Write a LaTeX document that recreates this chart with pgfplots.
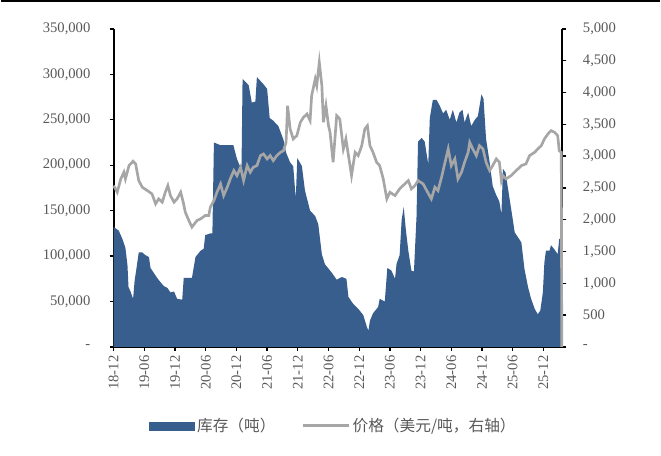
\documentclass[border=0pt]{standalone}
\usepackage{pgfplots}
\pgfplotsset{compat=1.18}
\usepackage{fontspec}
\setmainfont{Liberation Serif}
\newfontfamily\cjk{Noto Sans CJK SC}

\definecolor{invblue}{HTML}{385E8E}
\definecolor{pricegray}{HTML}{A6A6A6}
\definecolor{labelgray}{HTML}{595959}

\pgfplotsset{
  common/.style={
    scale only axis, width=337.5pt, height=239.25pt,
    xmin=0, xmax=87.7, ymin=0,
    axis line style={line width=1.3pt},
    tick align=outside, major tick length=3pt,
    tick style={black, line width=1pt},
    scaled y ticks=false,
    ticklabel style={font=\fontsize{11}{13}\selectfont, text=labelgray},
  },
}

\begin{document}
\begin{tikzpicture}
\path (0pt,0pt) rectangle (495.75pt,342.75pt);
\draw[line width=1.5pt] (0pt,342pt) -- (495.75pt,342pt);

% x = months since 2018-12
\begin{axis}[common,
  name=main,
  at={(84.75pt,81.75pt)}, anchor=south west,
  ymax=350000,
  axis x line*=bottom, axis y line*=left,
  xtick={0,6,12,18,24,30,36,42,48,54,60,66,72,78,84},
  xticklabels={18-12,19-06,19-12,20-06,20-12,21-06,21-12,22-06,22-12,23-06,23-12,24-06,24-12,25-06,25-12},
  ytick={0,50000,100000,150000,200000,250000,300000,350000},
  yticklabels={-,{50,000},{100,000},{150,000},{200,000},{250,000},{300,000},{350,000}},
  yticklabel style={xshift=-11pt},
  xticklabel style={rotate=90, anchor=east},
]
\addplot[fill=invblue, draw=none] table {
x y
0 132000
1.0 128000
1.7 119000
2.3 109000
2.7 90000
2.9 66000
3.3 61000
3.8 53000
4.1 73000
4.5 88000
4.9 104000
5.6 104000
6.2 101000
6.9 99000
7.2 87000
7.9 81000
8.5 76000
9.2 71000
9.8 67000
10.5 65000
11.1 60000
11.8 61000
12.4 53000
13.4 52000
13.7 76000
15.3 76000
16.0 99000
17.0 106000
17.6 108000
17.9 123000
18.9 125000
19.3 125000
19.6 225000
20.9 222000
22.2 222000
23.4 222000
24.1 207000
24.6 200000
25.0 200000
25.2 295000
26.4 288000
27.0 269000
27.7 270000
28.0 297000
29.3 289000
30.0 284000
30.5 252000
31.2 249000
32.2 243000
33.2 228000
33.7 214000
34.5 203000
35.1 199000
35.6 163000
35.9 208000
36.8 199000
37.4 172000
38.4 150000
39.4 144000
40.0 135000
40.7 102000
41.3 91000
42.6 82000
43.6 74000
44.6 77000
45.5 75000
45.9 55000
46.8 47600
47.8 42000
48.8 35000
49.5 22000
49.8 18000
50.1 29000
50.7 37000
51.7 44000
52.0 53000
53.0 50000
53.5 87000
54.3 84000
55.0 75000
55.3 91500
55.9 101000
56.3 140000
56.7 154000
57.1 130000
57.6 106000
58.2 84000
58.7 83000
59.2 143000
59.5 226000
60.2 230000
60.8 226000
61.5 201000
61.8 252000
62.4 272000
63.1 272000
63.7 266000
64.4 257000
65.0 261000
65.7 250000
66.3 261000
67.0 247000
67.6 258000
68.2 261000
68.6 247000
69.3 258000
69.9 243000
70.6 250000
71.2 254000
71.9 278000
72.3 273000
72.8 229000
73.5 203000
74.1 177000
74.8 167000
75.4 160000
75.8 146000
76.1 196000
76.6 192000
77.4 163000
78.0 141000
78.4 126000
79.0 121000
79.7 115000
80.3 86000
81.0 66000
81.6 53000
82.3 42000
82.9 36000
83.4 40000
83.9 60000
84.2 93000
84.5 106000
85.2 106000
85.5 112000
86.2 107000
86.8 102000
87.1 119000
87.5 119000
} \closedcycle;
\end{axis}

\begin{axis}[common,
  at={(main.south west)}, anchor=south west,
  ymax=5000,
  axis x line=none, axis y line*=right,
  ytick={0,500,1000,1500,2000,2500,3000,3500,4000,4500,5000},
  yticklabels={-,500,{1,000},{1,500},{2,000},{2,500},{3,000},{3,500},{4,000},{4,500},{5,000}},
  yticklabel style={xshift=9pt},
  clip=false,
  legend columns=2,
  legend style={draw=none, fill=none, at={(0.49,-0.248)}, anchor=center,
    font=\cjk\fontsize{11.8}{13}\selectfont, text=labelgray,
    /tikz/every even column/.append style={column sep=18pt}},
  legend cell align=left,
]
\addlegendimage{legend image code/.code={\fill[invblue] (0pt,-3pt) rectangle (34pt,3pt);}}
\addlegendentry{库存（吨）}
\addplot[color=pricegray, line width=2pt,
  legend image code/.code={\draw[color=pricegray, line width=2pt] (0pt,0pt) -- (34pt,0pt);}] table {
x y
0.0 2537
0.7 2433
1.4 2642
2.0 2747
2.3 2642
3.0 2851
3.8 2920
4.3 2878
4.9 2616
5.6 2511
6.6 2458
7.5 2406
8.2 2250
8.8 2328
9.5 2276
10.1 2433
10.6 2537
11.1 2380
11.8 2276
12.4 2328
13.1 2433
13.6 2276
14.0 2119
14.7 1988
15.3 1884
16.3 1988
17.0 2014
17.9 2066
18.6 2066
18.9 2198
19.6 2302
20.2 2433
20.9 2563
21.5 2380
22.2 2511
22.8 2642
23.5 2773
24.1 2694
24.8 2825
25.4 2616
26.1 2851
26.7 2747
27.3 2825
28.0 2851
28.7 3008
29.3 3034
30.0 2956
30.6 3008
31.2 2930
31.9 3008
32.6 3060
33.2 3086
33.7 3217
34.0 3793
34.5 3427
35.1 3270
35.8 3322
36.5 3532
37.1 3610
37.8 3662
38.4 3558
38.7 3950
39.4 4212
39.7 4108
40.2 4474
40.7 4108
41.0 3532
41.5 3793
42.0 3479
42.3 3375
42.9 2904
43.6 3636
44.2 3584
44.9 3113
45.4 3270
45.9 3008
46.5 2694
47.2 3060
47.8 3008
48.5 3165
49.1 3427
49.6 3479
50.1 3165
50.7 3060
51.4 2904
52.0 2851
52.7 2642
53.4 2328
54.0 2433
55.0 2380
55.9 2485
56.9 2563
57.6 2616
58.2 2485
58.9 2537
59.5 2616
60.5 2563
61.2 2458
62.1 2328
62.8 2511
63.4 2458
64.1 2668
64.7 2878
65.4 3113
66.0 2851
66.7 2956
67.3 2642
68.0 2747
68.6 2904
69.3 3060
69.6 3217
70.2 3113
70.9 3008
71.5 3165
72.2 3113
72.8 2904
73.5 2773
74.1 2851
74.8 2956
75.4 2904
75.8 2616
76.1 2694
76.7 2642
77.7 2694
78.7 2773
79.7 2851
80.6 2878
81.3 3008
82.3 3060
82.9 3113
83.6 3165
84.2 3270
84.9 3349
85.5 3401
86.2 3375
86.8 3322
87.1 3086
87.5 3060
87.6 0
};
\addlegendentry{价格（美元/吨，右轴）}
\end{axis}
\end{tikzpicture}
\end{document}
